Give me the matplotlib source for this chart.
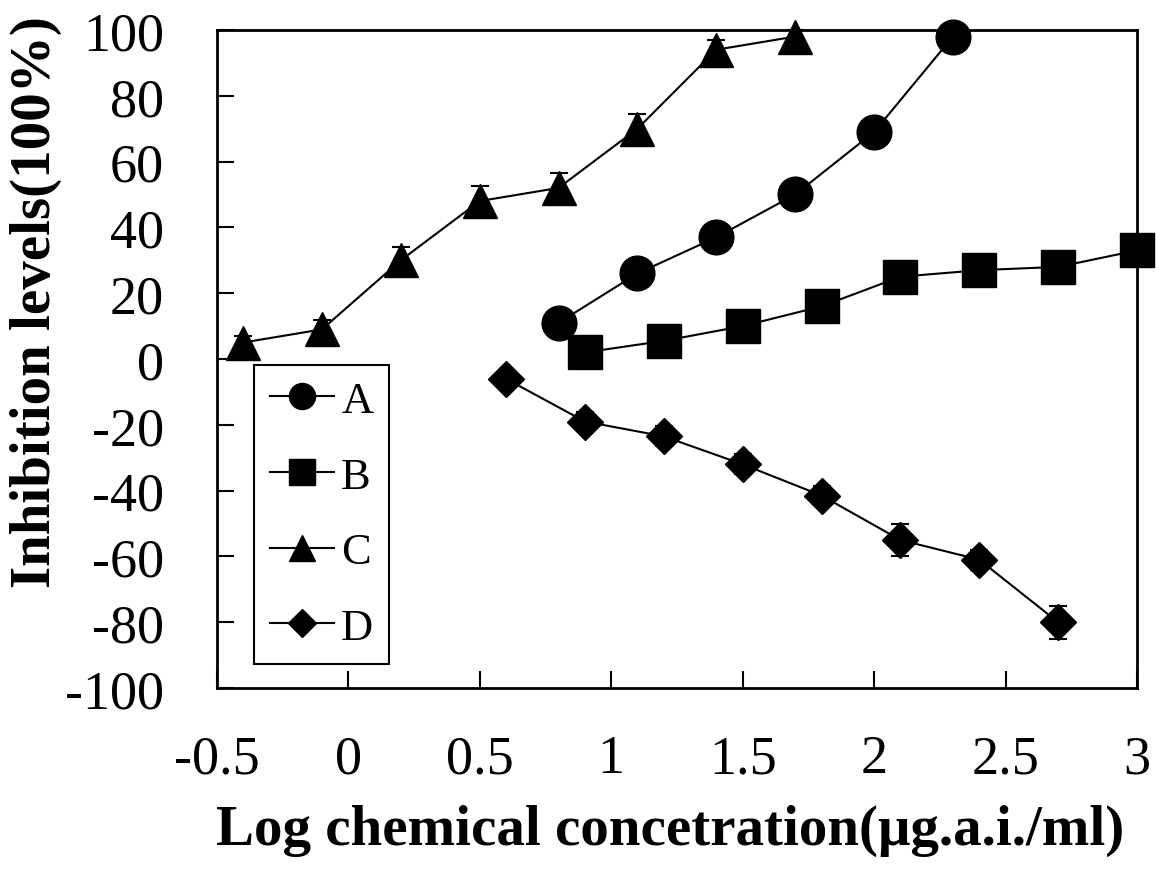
import matplotlib
matplotlib.use("Agg")
import matplotlib.pyplot as plt

# Data
x_a = [0.8, 1.1, 1.4, 1.7, 2.0, 2.3]
y_a = [11, 26, 37, 50, 69, 98]
err_a = [2, 3, 3, 3, 3, 2]

x_b = [0.9, 1.2, 1.5, 1.8, 2.1, 2.4, 2.7, 3.0]
y_b = [2, 5.5, 10, 16, 25, 27, 28, 33]
err_b = [2, 2, 3, 3, 3, 3, 3, 3]

x_c = [-0.4, -0.1, 0.2, 0.5, 0.8, 1.1, 1.4, 1.7]
y_c = [5, 9, 30, 48, 52, 70, 94, 98]
err_c = [2, 3, 4, 4.5, 4.5, 4.5, 3, 2]

x_d = [0.6, 0.9, 1.2, 1.5, 1.8, 2.1, 2.4, 2.7]
y_d = [-6, -19, -23.5, -32, -41.5, -55, -61, -80]
err_d = [2, 3, 3, 3, 3, 5, 3, 5]

labels = ["A", "B", "C", "D"]
markers = ["o", "s", "^", "D"]

xticks = [-0.5, 0, 0.5, 1, 1.5, 2, 2.5, 3]
xticklabels = ["-0.5", "0", "0.5", "1", "1.5", "2", "2.5", "3"]
yticks = [-100, -80, -60, -40, -20, 0, 20, 40, 60, 80, 100]

plt.rcParams["font.family"] = ["Liberation Serif", "DejaVu Serif"]
plt.rcParams["axes.unicode_minus"] = False

fig = plt.figure(figsize=(11.56, 8.70), dpi=100)
ax = fig.add_axes([0.1875, 0.208, 0.7961, 0.7564])

series = [(x_a, y_a, err_a), (x_b, y_b, err_b), (x_c, y_c, err_c), (x_d, y_d, err_d)]
handles = []
for (xs, ys, es), lab, mk in zip(series, labels, markers):
    ms = 18.5 if mk == "D" else 25
    ax.errorbar(xs, ys, yerr=es, fmt="none", ecolor="black", elinewidth=1.5,
                capsize=6.5, capthick=1.5, clip_on=False, zorder=2)
    line, = ax.plot(xs, ys, color="black", linewidth=1.5, marker=mk,
                    markersize=ms, markerfacecolor="black", markeredgecolor="black",
                    markeredgewidth=1, clip_on=False, zorder=3, label=lab)
    handles.append(line)

ax.set_xlim(-0.5, 3)
ax.set_ylim(-100, 100)
ax.set_xticks(xticks)
ax.set_xticklabels(xticklabels)
ax.set_yticks(yticks)

ax.tick_params(direction="in", length=12.5, width=1.5, labelsize=39)
ax.tick_params(axis="x", pad=33)
ax.tick_params(axis="y", pad=38)
for sp in ax.spines.values():
    sp.set_linewidth(2)

ax.set_xlabel("Log chemical concetration(\u03bcg.a.i./ml)", fontsize=41, fontweight="bold")
ax.xaxis.set_label_coords(0.4926, -0.215)
ax.xaxis.label.set_verticalalignment("center")
ax.set_ylabel("Inhibition levels(100%)", fontsize=41, fontweight="bold")
ax.yaxis.set_label_coords(-0.197, 0.588)
ax.yaxis.label.set_verticalalignment("center")

leg = ax.legend(handles=handles, loc="lower left", bbox_to_anchor=(0.0405, 0.0365),
                borderaxespad=0, fontsize=32, markerscale=0.75, handlelength=1.45,
                handletextpad=0.15, labelspacing=0.8, borderpad=0.36,
                fancybox=False, framealpha=1)
leg.get_frame().set_edgecolor("black")
leg.get_frame().set_linewidth(1.5)

fig.savefig("out.png", dpi=100)
